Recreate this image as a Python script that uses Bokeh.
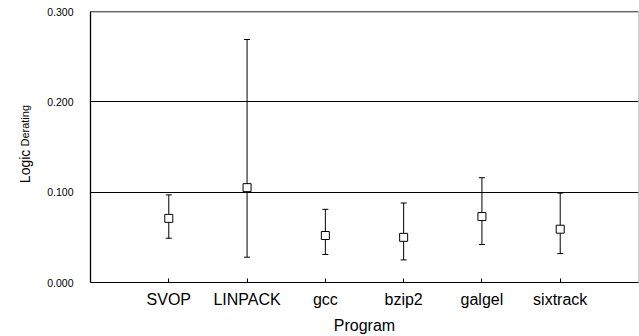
import math
from bokeh.plotting import figure
from bokeh.layouts import row
from bokeh.core.properties import value
from bokeh.models import (ColumnDataSource, Whisker, TeeHead, FixedTicker,
                          NumeralTickFormatter, Span, Range1d)
from bokeh.embed import file_html
from bokeh.resources import INLINE

# ---- data ----
programs = ["SVOP", "LINPACK", "gcc", "bzip2", "galgel", "sixtrack"]
mean_vals = [0.071, 0.105, 0.052, 0.050, 0.073, 0.059]
upper_vals = [0.097, 0.269, 0.081, 0.088, 0.116, 0.099]
lower_vals = [0.049, 0.028, 0.031, 0.025, 0.042, 0.032]
y_ticks = [0.0, 0.1, 0.2, 0.3]
grid_ticks = [0.1, 0.2]
y_title_main = "Logic"
y_title_sub = "Derating"

FONT = "Liberation Sans"
TITLE_W = 36

xpos = list(range(1, len(programs) + 1))
src = ColumnDataSource(dict(x=xpos, mean=mean_vals, upper=upper_vals, lower=lower_vals))
yr = Range1d(y_ticks[0], y_ticks[-1])

p = figure(width=639 - TITLE_W, height=336, output_backend="svg", toolbar_location=None,
           x_range=Range1d(0, len(programs) + 1), y_range=yr,
           min_border_left=90 - TITLE_W, min_border_right=1, min_border_top=11, min_border_bottom=53)
p.background_fill_color = "white"
p.border_fill_color = "white"
p.outline_line_color = "#cccccc"

# axes
p.xaxis.ticker = FixedTicker(ticks=xpos)
p.xaxis.major_label_overrides = {x: name for x, name in zip(xpos, programs)}
p.xaxis.major_tick_in = 4
p.xaxis.major_tick_out = 0
p.xaxis.minor_tick_line_color = None
p.xaxis.axis_line_color = "black"
p.xaxis.major_tick_line_color = "black"
p.xaxis.major_label_text_font = FONT
p.xaxis.major_label_text_font_size = "16px"
p.xaxis.major_label_text_color = "black"
p.xaxis.major_label_standoff = 8
p.xaxis.axis_label = "Program"
p.xaxis.axis_label_text_font = FONT
p.xaxis.axis_label_text_font_size = "16px"
p.xaxis.axis_label_text_font_style = "normal"
p.xaxis.axis_label_text_color = "black"
p.xaxis.axis_label_standoff = 6

p.yaxis.ticker = FixedTicker(ticks=y_ticks)
p.yaxis.formatter = NumeralTickFormatter(format="0.000")
p.yaxis.major_tick_in = 0
p.yaxis.major_tick_out = 0
p.yaxis.minor_tick_line_color = None
p.yaxis.axis_line_color = "black"
p.yaxis.axis_line_width = 1.3
p.yaxis.major_label_text_font = FONT
p.yaxis.major_label_text_font_size = "10.5px"
p.yaxis.major_label_text_color = "black"
p.yaxis.major_label_standoff = 17

p.xgrid.grid_line_color = None
p.ygrid.ticker = FixedTicker(ticks=grid_ticks)
p.ygrid.grid_line_color = "black"
p.ygrid.grid_line_width = 1

# frame top edge (black, slightly heavier)
p.add_layout(Span(location=y_ticks[-1], dimension="width", line_color="black", line_width=1.5))

# error bars
w = Whisker(source=src, base="x", upper="upper", lower="lower", dimension="height",
            line_color="black", line_width=1,
            upper_head=TeeHead(size=6, line_color="black", line_width=1),
            lower_head=TeeHead(size=6, line_color="black", line_width=1))
p.add_layout(w)

p.scatter("x", "mean", source=src, marker="square", size=8,
          fill_color="white", line_color="black", line_width=1)

# narrow strip on the left carrying the two-size y-axis title
t = figure(width=TITLE_W, height=336, output_backend="svg", toolbar_location=None,
           x_range=Range1d(0, TITLE_W), y_range=yr, x_axis_type=None, y_axis_type=None,
           min_border_left=0, min_border_right=0, min_border_top=11, min_border_bottom=53)
t.outline_line_color = None
t.background_fill_color = "white"
t.border_fill_color = "white"
t.grid.visible = False
t.text(x=[24], y=[0.110], text=[y_title_main], angle=math.pi / 2,
       text_font=value(FONT), text_font_size="14px", text_color="black",
       text_align="left", text_baseline="alphabetic")
t.text(x=[24], y=[0.1505], text=[y_title_sub], angle=math.pi / 2,
       text_font=value(FONT), text_font_size="11px", text_color="black",
       text_align="left", text_baseline="alphabetic")

layout = row(t, p, spacing=0)
open("out.html", "w").write(file_html(layout, INLINE))
